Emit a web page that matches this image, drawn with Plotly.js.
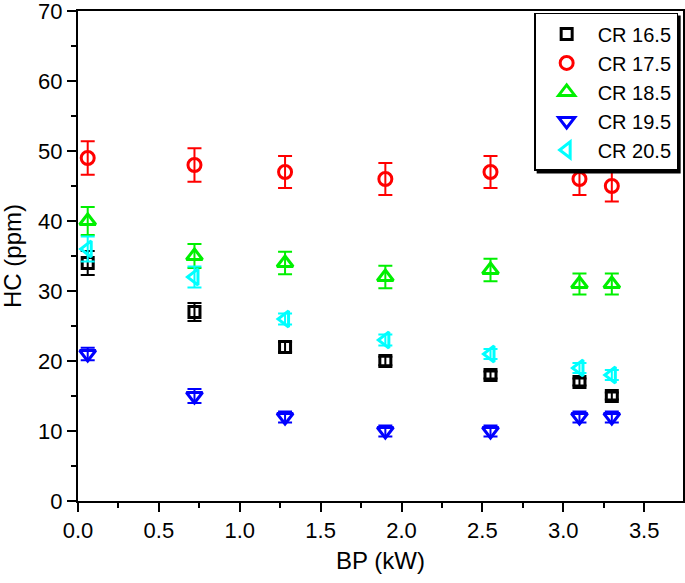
<!DOCTYPE html>
<html><head><meta charset="utf-8">
<script src="https://cdn.plot.ly/plotly-3.0.1.min.js"></script>
<style>html,body{margin:0;padding:0;background:#fff}</style>
</head><body>
<div id="chart" style="width:685px;height:583px"></div>
<script>
const bp = [0.06, 0.72, 1.28, 1.9, 2.55, 3.1, 3.3];
const seriesNames = ["CR 16.5", "CR 17.5", "CR 18.5", "CR 19.5", "CR 20.5"];
const cr165 = [34, 27, 22, 20, 18, 17, 15];
const cr165err = [1.7, 1.3, 0.7, 0.6, 0.5, 0.5, 0.5];
const cr175 = [49, 48, 47, 46, 47, 46, 45];
const cr175err = [2.4, 2.4, 2.3, 2.3, 2.3, 2.3, 2.2];
const cr185 = [40, 35, 34, 32, 33, 31, 31];
const cr185err = [2.0, 1.7, 1.6, 1.6, 1.6, 1.5, 1.5];
const cr195 = [21, 15, 12, 10, 10, 12, 12];
const cr195err = [0.9, 1.0, 0.8, 0.8, 0.8, 0.8, 0.8];
const cr205 = [36, 32, 26, 23, 21, 19, 18];
const cr205err = [1.8, 1.5, 0.8, 0.8, 0.7, 0.7, 0.7];
const xTitle = "BP (kW)";
const yTitle = "HC (ppm)";

const colors = ["#000000", "#ff0000", "#00f000", "#0000ff", "#00ffff"];
const symbols = ["square-open", "circle-open", "triangle-up-open", "triangle-down-open", "triangle-left-open"];
const sizes = [11, 13, 14, 14, 14];
const ys = [cr165, cr175, cr185, cr195, cr205];
const errs = [cr165err, cr175err, cr185err, cr195err, cr205err];

const traces = seriesNames.map((n, i) => ({
  x: bp, y: ys[i], name: n, type: "scatter", mode: "markers",
  marker: {symbol: symbols[i], size: sizes[i], color: colors[i], line: {width: 3, color: colors[i]}},
  error_y: {type: "data", array: errs[i], visible: true, color: colors[i], thickness: 2, width: 7}
}));

const fam = "Liberation Sans, Arial, sans-serif";
const tickFont = {family: fam, size: 22, color: "#000"};
const titleFont = {family: fam, size: 24, color: "#000"};
const M = {l: 78, r: 2, t: 11, b: 82};
const W = 685, H = 583;
const legX = 0.992, legY = 0.996;
const pw = W - M.l - M.r, ph = H - M.t - M.b;
const layout = {
  width: W, height: H,
  margin: M,
  paper_bgcolor: "#fff", plot_bgcolor: "#fff",
  font: tickFont,
  showlegend: true,
  legend: {x: legX, y: legY, xanchor: "right", yanchor: "top",
    bordercolor: "#000", borderwidth: 1.5, bgcolor: "#fff", itemwidth: 52,
    font: {family: fam, size: 20, color: "#000"}, tracegroupgap: 0},
  xaxis: {range: [0, 3.74], tickvals: [0, 0.5, 1, 1.5, 2, 2.5, 3, 3.5],
    ticktext: ["0.0", "0.5", "1.0", "1.5", "2.0", "2.5", "3.0", "3.5"],
    tickfont: tickFont, ticklabeloverflow: "allow",
    ticks: "outside", ticklen: 9, tickwidth: 2, tickcolor: "#000",
    minor: {dtick: 0.25, tick0: 0, ticks: "outside", ticklen: 5, tickwidth: 2, tickcolor: "#000"},
    showline: true, linecolor: "#000", linewidth: 2, mirror: true, showgrid: false, zeroline: false,
    title: {text: xTitle, font: titleFont, standoff: 10}},
  yaxis: {range: [0, 70], dtick: 10, tick0: 0, tickfont: tickFont, ticklabeloverflow: "allow",
    ticks: "outside", ticklen: 9, tickwidth: 2, tickcolor: "#000",
    minor: {dtick: 5, tick0: 0, ticks: "outside", ticklen: 5, tickwidth: 2, tickcolor: "#000"},
    showline: true, linecolor: "#000", linewidth: 2, mirror: true, showgrid: false, zeroline: false},
  annotations: [{text: yTitle, textangle: -90, font: titleFont, showarrow: false,
    xref: "paper", yref: "paper", x: (12 - M.l) / pw, y: 0.5, xanchor: "center", yanchor: "middle"}]
};
const gd = document.getElementById("chart");
Plotly.newPlot(gd, traces, layout, {displayModeBar: false, staticPlot: true}).then(() => {
  const L = gd._fullLayout.legend;
  const right = M.l + legX * pw, top = M.t + (1 - legY) * ph;
  const lw = L._width, lh = L._height;
  const off = 2.5;
  const shadow = {type: "rect", xref: "paper", yref: "paper", layer: "above",
    x0: (right - lw + off - M.l) / pw, x1: (right + off - M.l) / pw,
    y0: 1 - (top + lh + off - M.t) / ph, y1: 1 - (top + off - M.t) / ph,
    fillcolor: "#000", line: {width: 0}};
  return Plotly.relayout(gd, {shapes: [shadow]});
});
</script>
</body></html>
